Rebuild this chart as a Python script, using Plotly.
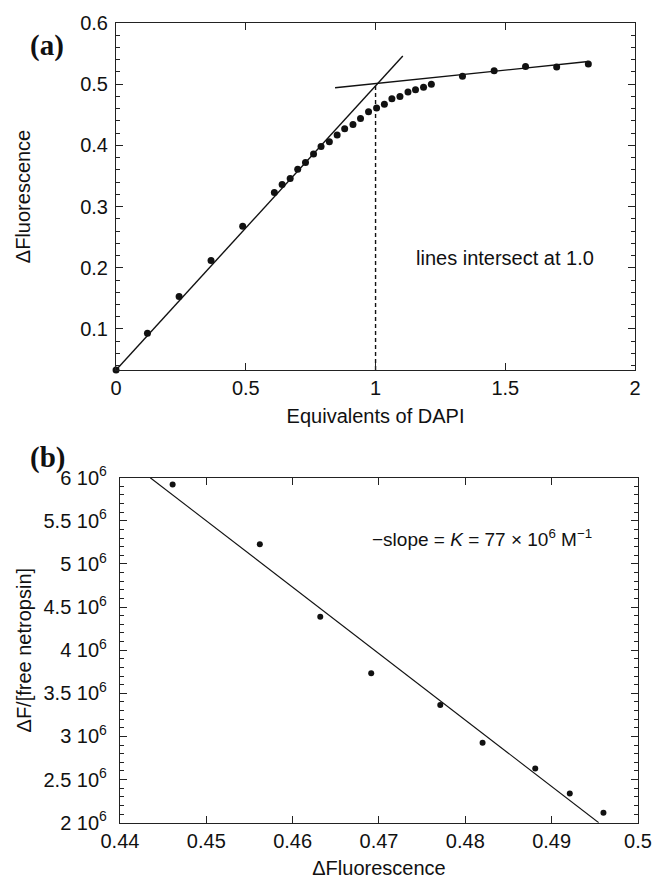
import plotly.graph_objects as go

# ---- panel (a): titration of DAPI ----
equiv = [0.0, 0.121, 0.243, 0.366, 0.488,
         0.61, 0.64, 0.671, 0.70, 0.73, 0.761, 0.79, 0.822, 0.852, 0.881,
         0.913, 0.942, 0.973, 1.004, 1.034, 1.063, 1.094, 1.125, 1.154,
         1.185, 1.215,
         1.335, 1.457, 1.578, 1.698, 1.82]
dfluor_a = [0.033, 0.093, 0.153, 0.212, 0.268,
            0.323, 0.336, 0.346, 0.361, 0.372, 0.386, 0.398, 0.406, 0.417,
            0.427, 0.434, 0.444, 0.455, 0.461, 0.467, 0.476, 0.480, 0.487,
            0.491, 0.495, 0.500,
            0.513, 0.522, 0.529, 0.528, 0.533]

# fitted lines (endpoints)
rise_x = [0.0, 1.105]
rise_y = [0.033, 0.546]
plateau_x = [0.844, 1.82]
plateau_y = [0.494, 0.537]
intersect_x = 1.0
intersect_y = 0.501

xticks_a = [0, 0.5, 1, 1.5, 2]
xtick_text_a = ["0", "0.5", "1", "1.5", "2"]
yticks_a = [0.1, 0.2, 0.3, 0.4, 0.5, 0.6]
ytick_text_a = ["0.1", "0.2", "0.3", "0.4", "0.5", "0.6"]

# ---- panel (b): Scatchard-type plot for netropsin ----
dfluor_b = [0.4461, 0.4562, 0.4632, 0.4691, 0.4771, 0.4820, 0.4881,
            0.4921, 0.4960]
ratio_b = [5.92e6, 5.228e6, 4.389e6, 3.732e6, 3.365e6, 2.928e6, 2.63e6,
           2.34e6, 2.116e6]

K = 77e6          # binding constant, -slope of the fit
fit_intercept = 40.15e6

xticks_b = [0.44, 0.45, 0.46, 0.47, 0.48, 0.49, 0.5]
xtick_text_b = ["0.44", "0.45", "0.46", "0.47", "0.48", "0.49", "0.5"]
yticks_b = [2e6, 2.5e6, 3e6, 3.5e6, 4e6, 4.5e6, 5e6, 5.5e6, 6e6]
ytick_text_b = ["2 10<sup>6</sup>", "2.5 10<sup>6</sup>", "3 10<sup>6</sup>",
                "3.5 10<sup>6</sup>", "4 10<sup>6</sup>", "4.5 10<sup>6</sup>",
                "5 10<sup>6</sup>", "5.5 10<sup>6</sup>", "6 10<sup>6</sup>"]

yrange_b = [2e6, 6e6]
# fit line clipped to the plotted y-range
fit_x = [(fit_intercept - yrange_b[1]) / K, (fit_intercept - yrange_b[0]) / K]
fit_y = [fit_intercept - K * x for x in fit_x]

FONT = "Liberation Sans, Arial, sans-serif"
SERIF = "Liberation Serif, Times New Roman, serif"
INK = "#111111"

fig = go.Figure()

# panel (a) traces
fig.add_trace(go.Scatter(x=rise_x, y=rise_y, mode="lines",
                         line=dict(color=INK, width=1.4),
                         xaxis="x", yaxis="y", showlegend=False))
fig.add_trace(go.Scatter(x=plateau_x, y=plateau_y, mode="lines",
                         line=dict(color=INK, width=1.4),
                         xaxis="x", yaxis="y", showlegend=False))
fig.add_trace(go.Scatter(x=[intersect_x, intersect_x], y=[0.033, intersect_y],
                         mode="lines",
                         line=dict(color=INK, width=1.4, dash="4px,3px"),
                         xaxis="x", yaxis="y", showlegend=False))
fig.add_trace(go.Scatter(x=equiv, y=dfluor_a, mode="markers",
                         marker=dict(color=INK, size=7),
                         xaxis="x", yaxis="y", showlegend=False, cliponaxis=False))

# panel (b) traces
fig.add_trace(go.Scatter(x=fit_x, y=fit_y, mode="lines",
                         line=dict(color=INK, width=1.1),
                         xaxis="x2", yaxis="y2", showlegend=False))
fig.add_trace(go.Scatter(x=dfluor_b, y=ratio_b, mode="markers",
                         marker=dict(color=INK, size=6),
                         xaxis="x2", yaxis="y2", showlegend=False))

axis_common = dict(showline=True, linecolor="#222222", linewidth=1.2,
                   mirror="ticks", ticks="inside", ticklen=7, tickwidth=1,
                   tickcolor="#222222", showgrid=False, zeroline=False,
                   automargin=False,
                   tickfont=dict(family=FONT, size=20, color=INK))

fig.update_layout(
    width=652, height=882,
    margin=dict(l=0, r=0, t=0, b=0, autoexpand=False),
    paper_bgcolor="white", plot_bgcolor="white",
    font=dict(family=FONT, color=INK),
    xaxis=dict(axis_common, domain=[0.178, 0.974], anchor="y",
               range=[0, 2], tickvals=xticks_a, ticktext=xtick_text_a,
               title=dict(text="Equivalents of DAPI",
                          font=dict(family=FONT, size=20), standoff=10)),
    yaxis=dict(axis_common, domain=[0.5805, 0.974], anchor="x",
               range=[0.033, 0.6], tickvals=yticks_a, ticktext=ytick_text_a,
               ticklabelstandoff=3,
               minor=dict(ticks="inside", ticklen=4, dtick=0.02, tick0=0,
                          tickcolor="#222222"),
               title=dict(text="ΔFluorescence",
                          font=dict(family=FONT, size=20), standoff=44)),
    xaxis2=dict(axis_common, domain=[0.184, 0.9785], anchor="y2",
                range=[0.44, 0.5], tickvals=xticks_b, ticktext=xtick_text_b,
                title=dict(text="ΔFluorescence",
                           font=dict(family=FONT, size=20), standoff=10)),
    yaxis2=dict(axis_common, domain=[0.0672, 0.4584], anchor="x2",
                range=yrange_b, tickvals=yticks_b, ticktext=ytick_text_b,
                ticklabelstandoff=8,
                minor=dict(ticks="inside", ticklen=4, dtick=1e5, tick0=0,
                           tickcolor="#222222"),
                title=dict(text="ΔF/[free netropsin]",
                           font=dict(family=FONT, size=20), standoff=6)),
)

annotations = [
    dict(text="lines intersect at 1.0", x=1.5, y=0.216, xref="x", yref="y",
         showarrow=False, font=dict(family=FONT, size=20, color=INK)),
    dict(text="\u2212slope = <i>K</i> = 77 \u00d7 10<sup>6</sup> M<sup>\u22121</sup>",
         x=0.4819, y=5.30e6, xref="x2", yref="y2",
         showarrow=False, font=dict(family=FONT, size=19, color=INK)),
]

# panel letters, positioned in page pixels
W, H = 652, 882
for label, (px, py) in [("(a)", (28, 27)), ("(b)", (28, 458))]:
    annotations.append(dict(text="<b>%s</b>" % label, x=px / W, y=1 - py / H,
                            xref="paper", yref="paper", showarrow=False,
                            font=dict(family=SERIF, size=29, color=INK)))

fig.update_layout(annotations=annotations)

fig.write_html("out.html")
